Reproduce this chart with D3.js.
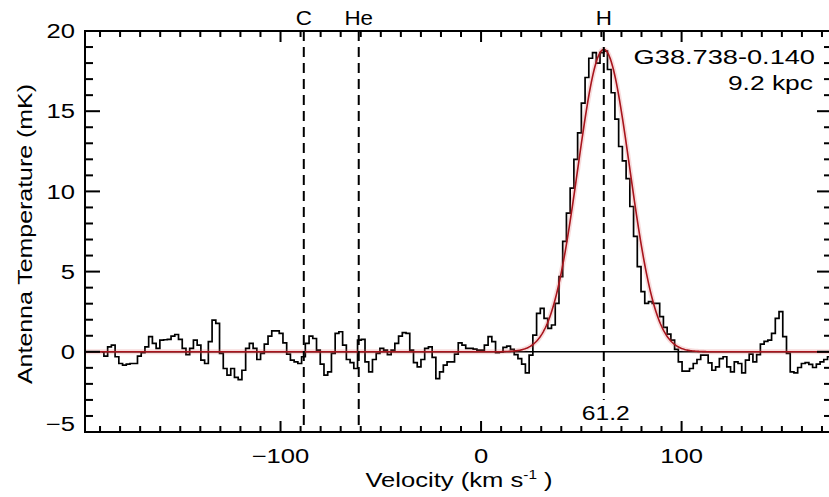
<!DOCTYPE html>
<html>
<head>
<meta charset="utf-8">
<script src="https://cdn.jsdelivr.net/npm/d3@7"></script>
<style>
  html, body { margin: 0; padding: 0; background: #fff; }
  svg { display: block; font-family: "Liberation Sans", Arial, Helvetica, sans-serif; }
</style>
</head>
<body>
<svg id="chart" width="829" height="497"></svg>
<script>
// Spectrum channel grid (km/s)
const velocityStart = -189.0;
const channelWidth = 1.86;

// Antenna temperature per channel (mK)
const temperature = [
  0.00, -0.27, 0.31, 0.42, -0.31, -0.73, -0.83, -0.77, -0.73, -0.73,
  -0.27, -0.06, 0.31, 0.94, 0.52, 0.21, 0.73, 0.75, 0.77, 0.98,
  1.08, 0.77, 0.21, -0.17, 0.21, 0.73, 0.42, -0.52, -0.73, 0.63,
  1.98, 1.77, -0.10, -1.04, -1.46, -1.04, -1.60, -1.73, -1.15, 0.21,
  0.52, 0.21, -0.48, -0.10, 0.48, 0.98, 1.31, 1.31, 1.15, 0.56,
  -0.15, -0.52, -0.63, -0.73, -0.31, 0.52, 0.98, 0.83, 0.10, -0.77,
  -1.46, -1.25, -0.10, 1.15, 1.25, 0.42, -0.48, -0.67, -1.04, 0.73,
  0.77, -0.63, -1.25, -0.48, -0.10, 0.21, 0.10, -0.17, 0.10, 0.52,
  0.98, 1.19, 1.15, 0.10, -0.67, -0.94, -0.48, 0.21, 0.31, -0.35,
  -1.67, -1.25, -0.83, -0.63, -0.63, -0.15, 0.56, 0.42, 0.21, 0.21,
  0.17, 0.10, 0.10, 0.42, 0.94, 0.63, -0.06, 0.00, 0.27, 0.35,
  0.15, -0.17, -0.42, -0.77, -1.31, -0.21, 1.04, 2.40, 2.71, 2.08,
  1.46, 1.67, 3.02, 4.69, 6.88, 8.65, 10.20, 12.00, 13.65, 15.50,
  17.10, 18.30, 18.65, 18.00, 18.65, 18.75, 17.60, 16.15, 14.50, 12.80,
  11.90, 10.80, 9.06, 7.19, 5.31, 3.75, 3.02, 3.13, 3.02, 3.02,
  2.19, 1.52, 1.10, 0.73, 0.15, -0.63, -1.21, -1.21, -1.04, -0.73,
  -0.48, -0.21, -0.21, -0.69, -1.15, -0.94, -0.42, -0.31, -0.94, -1.25,
  -0.63, -0.73, -1.31, -0.52, -0.15, -0.63, -0.17, 0.48, 0.65, 0.73,
  1.15, 2.08, 2.50, 0.94, -0.10, -1.25, -1.31, -0.98, -0.73, -0.67,
  -0.79, -0.98, -0.77, -0.63, -0.48, -0.31
];

// Gaussian fit to the hydrogen line
const fitPeak = 18.85;     // mK
const fitCenter = 61.2;    // km/s
const fitFwhm = 30.5;      // km/s

// Recombination line positions (km/s)
const lineNames = ["C", "He", "H"];
const lineVelocities = [-88.4, -61.0, 61.2];

// Axis ticks
const xMajorTicks = [-100, 0, 100];
const yMajorTicks = [-5, 0, 5, 10, 15, 20];
const xDomain = [-197.5, 175];
const yDomain = [-5, 20];

const sourceName = "G38.738-0.140";
const sourceDistance = "9.2 kpc";

// ---------------------------------------------------------------
const svg = d3.select("#chart");
const plotLeft = 85, plotRight = 832, plotTop = 31, plotBottom = 432;
const fontSize = 20;
const stretchX = 1.28;
const tickW = 2;

const x = d3.scaleLinear().domain(xDomain).range([plotLeft, plotRight]);
const y = d3.scaleLinear().domain(yDomain).range([plotBottom, plotTop]);

const xMinorTicks = d3.range(-190, 175, 10).filter(v => !xMajorTicks.includes(v));
const yMinorTicks = d3.range(-5, 21, 1).filter(v => !yMajorTicks.includes(v));

// widen text horizontally around its anchor point
function widen(sel, k) {
  const bb = sel.node().getBBox();
  const anchor = sel.attr("text-anchor") || "start";
  const ax = anchor === "middle" ? bb.x + bb.width / 2 : anchor === "end" ? bb.x + bb.width : bb.x;
  sel.attr("transform", `translate(${ax},0) scale(${k},1) translate(${-ax},0)`);
  return sel;
}

const plot = svg.append("g");

// zero level
plot.append("line")
  .attr("x1", x(xDomain[0])).attr("x2", x(xDomain[1]))
  .attr("y1", y(0)).attr("y2", y(0))
  .attr("stroke", "#000").attr("stroke-width", 1.5);

// spectrum, drawn as a histogram
const spectrum = temperature.map((t, i) => [velocityStart + i * channelWidth, t]);
const stepLine = d3.line().x(d => x(d[0])).y(d => y(d[1])).curve(d3.curveStep);
plot.append("path")
  .datum(spectrum)
  .attr("d", stepLine)
  .attr("fill", "none")
  .attr("stroke", "#000")
  .attr("stroke-width", 1.7)
  .attr("stroke-linejoin", "miter");

// Gaussian model
const sigma = fitFwhm / (2 * Math.sqrt(2 * Math.log(2)));
const fitCurve = d3.range(xDomain[0], xDomain[1] + 0.25, 0.5)
  .map(v => [v, fitPeak * Math.exp(-((v - fitCenter) ** 2) / (2 * sigma * sigma))]);
const fitLine = d3.line().x(d => x(d[0])).y(d => y(d[1]));
plot.append("path").datum(fitCurve).attr("d", fitLine)
  .attr("fill", "none").attr("stroke", "rgba(220,100,100,0.22)").attr("stroke-width", 5);
plot.append("path").datum(fitCurve).attr("d", fitLine)
  .attr("fill", "none").attr("stroke", "#a8141c").attr("stroke-width", 1.6);

// dashed line markers
lineNames.forEach((name, i) => {
  const vx = x(lineVelocities[i]);
  const yEnd = name === "H" ? 400 : plotBottom;
  plot.append("line")
    .attr("x1", vx).attr("x2", vx).attr("y1", plotTop).attr("y2", yEnd)
    .attr("stroke", "#000").attr("stroke-width", 2)
    .attr("stroke-dasharray", "10,6");
  const t = svg.append("text")
    .attr("x", vx).attr("y", 25.5)
    .attr("text-anchor", "middle")
    .attr("font-size", fontSize)
    .text(name);
  widen(t, 1.12);
});

// frame
svg.append("rect")
  .attr("x", plotLeft).attr("y", plotTop)
  .attr("width", plotRight - plotLeft).attr("height", plotBottom - plotTop)
  .attr("fill", "none").attr("stroke", "#000").attr("stroke-width", 2);

// inward ticks as small filled bars
const xTickSpec = xMajorTicks.map(v => ({ v, len: 11 })).concat(xMinorTicks.map(v => ({ v, len: 6 })));
const yTickSpec = yMajorTicks.map(v => ({ v, len: 15 })).concat(yMinorTicks.map(v => ({ v, len: 8 })));
const ticks = svg.append("g").attr("fill", "#000");
ticks.selectAll(".tb").data(xTickSpec).join("rect").attr("class", "tb")
  .attr("x", d => x(d.v) - tickW / 2).attr("y", d => plotBottom - d.len)
  .attr("width", tickW).attr("height", d => d.len);
ticks.selectAll(".tt").data(xTickSpec).join("rect").attr("class", "tt")
  .attr("x", d => x(d.v) - tickW / 2).attr("y", plotTop)
  .attr("width", tickW).attr("height", d => d.len);
ticks.selectAll(".tl").data(yTickSpec).join("rect").attr("class", "tl")
  .attr("x", plotLeft).attr("y", d => y(d.v) - tickW / 2)
  .attr("width", d => d.len).attr("height", tickW);
ticks.selectAll(".tr").data(yTickSpec).join("rect").attr("class", "tr")
  .attr("x", d => plotRight - d.len).attr("y", d => y(d.v) - tickW / 2)
  .attr("width", d => d.len).attr("height", tickW);

// tick labels
const labels = svg.append("g").attr("font-size", fontSize).attr("fill", "#000");
xMajorTicks.forEach(v => {
  const t = labels.append("text")
    .attr("x", x(v)).attr("y", 463)
    .attr("text-anchor", "middle")
    .text(d3.format("d")(v));
  widen(t, stretchX);
});
yMajorTicks.forEach(v => {
  const yy = v === yDomain[0] ? y(v) - 8.5 : y(v);
  const t = labels.append("text")
    .attr("x", 75).attr("y", yy + 7.2)
    .attr("text-anchor", "end")
    .text(d3.format("d")(v));
  widen(t, stretchX);
});

// axis titles
const xTitle = svg.append("text")
  .attr("x", 459).attr("y", 487.5)
  .attr("text-anchor", "middle")
  .attr("font-size", fontSize);
xTitle.append("tspan").text("Velocity (km s");
xTitle.append("tspan").attr("font-size", 12).attr("dy", -8).text("-1");
xTitle.append("tspan").attr("dy", 8).text(" )");
widen(xTitle, stretchX);

svg.append("text")
  .attr("transform", "translate(32,234) rotate(-90)")
  .attr("text-anchor", "middle")
  .attr("font-size", 21)
  .attr("textLength", 300)
  .attr("lengthAdjust", "spacingAndGlyphs")
  .text("Antenna Temperature (mK)");

// source annotation
widen(svg.append("text")
  .attr("x", 815).attr("y", 64.5)
  .attr("text-anchor", "end")
  .attr("font-size", fontSize)
  .text(sourceName), 1.36);
widen(svg.append("text")
  .attr("x", 813).attr("y", 90)
  .attr("text-anchor", "end")
  .attr("font-size", fontSize)
  .text(sourceDistance), 1.32);

// fitted centre velocity
widen(svg.append("text")
  .attr("x", x(fitCenter) + 2).attr("y", 420)
  .attr("text-anchor", "middle")
  .attr("font-size", fontSize)
  .text(d3.format(".1f")(fitCenter)), 1.23);
</script>
</body>
</html>
